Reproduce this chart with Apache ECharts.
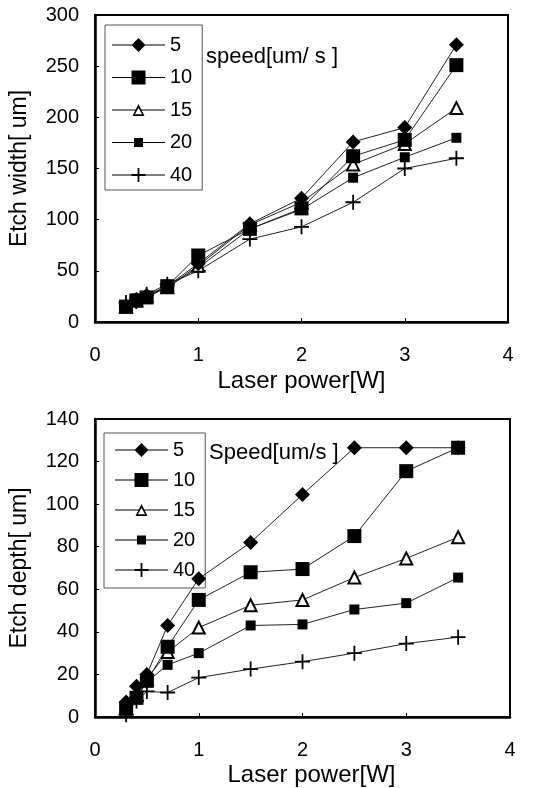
<!DOCTYPE html>
<html>
<head>
<meta charset="utf-8">
<script src="https://cdn.jsdelivr.net/npm/echarts@6/dist/echarts.min.js"></script>
<style>
html,body{margin:0;padding:0;background:#fff;}
#chart{width:547px;height:788px;}
</style>
</head>
<body>
<div id="chart"></div>
<script>
var powers = [0.3, 0.4, 0.5, 0.7, 1, 1.5, 2, 2.5, 3, 3.5];
var speeds = ['5', '10', '15', '20', '40'];
var xTicks = [0, 1, 2, 3, 4];
var widthTicks = [0, 50, 100, 150, 200, 250, 300];
var depthTicks = [0, 20, 40, 60, 80, 100, 120, 140];

var width5  = [16, 22, 26, 35, 57, 96, 121, 176, 190, 271];
var width10 = [15, 21, 24, 35, 65, 91, 111, 162, 178, 251];
var width15 = [15, 21, 26, 34, 55, 95, 117, 154, 174, 209];
var width20 = [15, 23, 24, 34, 53, 91, 110, 141, 161, 180];
var width40 = [19, 20, 27, 37, 50, 81, 93, 117, 150, 160];

var depth5  = [7, 14.5, 20, 43, 65, 82, 104.5, 126.5, 126.5, 126.5];
var depth10 = [4, 9, 17, 33, 55, 68, 69.5, 85, 115.5, 126.5];
var depth15 = [4.5, 10.5, 18, 30.5, 42, 52.5, 55, 65.5, 74.5, 84.5];
var depth20 = [3.8, 9, 16.5, 24.5, 30, 43, 43.5, 50.5, 53.5, 65.5];
var depth40 = [1, 7.5, 12, 11.5, 18.5, 22.5, 26, 30, 34.5, 37.5];

var plusPath = 'path://M8.8,0H11.2V8.8H20V11.2H11.2V20H8.8V11.2H0V8.8H8.8Z';
var styles = [
  {symbol: 'diamond', size: 15, fill: '#000'},
  {symbol: 'rect', size: 14, fill: '#000'},
  {symbol: 'triangle', size: 12, fill: '#fff'},
  {symbol: 'rect', size: 10, fill: '#000'},
  {symbol: plusPath, size: 15, fill: '#000'}
];
// legend icons: line + marker drawn as one path (53 x 15 box)
var legendIcons = [
  'path://M0,7H53V8H0Z M26.5,0.5L33.5,7.5L26.5,14.5L19.5,7.5Z',
  'path://M0,7H53V8H0Z M19.5,0.5H33.5V14.5H19.5Z',
  'path://M0,7H23.5V8H0Z M29.5,7H53V8H29.5Z M26.5,1.5L32.5,13.5L20.5,13.5Z M26.5,5.6L22.9,11.8L30.1,11.8Z',
  'path://M0,7H53V8H0Z M22,3H31V12H22Z',
  'path://M0,7H53V8H0Z M25.6,0.5H27.4V6.6H33.5V8.4H27.4V14.5H25.6V8.4H19.5V6.6H25.6Z'
];

var widthSets = [width5, width10, width15, width20, width40];
var depthSets = [depth5, depth10, depth15, depth20, depth40];

function pairs(vals) {
  return powers.map(function (p, i) { return [p, vals[i]]; });
}

var font = '"Liberation Sans", Arial, sans-serif';
var series = [];
[widthSets, depthSets].forEach(function (sets, gi) {
  sets.forEach(function (vals, si) {
    var st = styles[si];
    series.push({
      name: speeds[si],
      type: 'line',
      xAxisIndex: gi,
      yAxisIndex: gi,
      data: pairs(vals),
      symbol: st.symbol,
      symbolSize: st.size,
      showAllSymbol: true,
      z: 10 - si,
      lineStyle: {color: '#222', width: 1},
      itemStyle: {color: st.fill, borderColor: '#000', borderWidth: st.fill === '#fff' ? 2 : 0},
      emphasis: {disabled: true},
      animation: false
    });
  });
});

function xAxis(gi) {
  return {
    type: 'value', gridIndex: gi, min: 0, max: 4, interval: 1,
    name: 'Laser power[W]', nameLocation: 'middle', nameGap: gi === 0 ? 47 : 46,
    nameTextStyle: {fontSize: 24, fontFamily: font, color: '#000', padding: gi === 0 ? 0 : [0, 0, 0, 18]},
    axisLine: {show: true, lineStyle: {color: '#000', width: 2.5}},
    axisTick: {show: true, inside: true, length: 4, lineStyle: {color: '#000', width: 1}},
    axisLabel: {fontSize: 20, fontFamily: font, color: '#000', margin: 23},
    splitLine: {show: false}
  };
}
function yAxis(gi, name, max, interval) {
  return {
    type: 'value', gridIndex: gi, min: 0, max: max, interval: interval,
    name: name, nameLocation: 'middle', nameGap: 64, nameRotate: 90,
    nameTextStyle: {fontSize: 23, fontFamily: font, color: '#000'},
    axisLine: {show: true, lineStyle: {color: '#000', width: 2.5}},
    axisTick: {show: true, inside: true, length: 4, lineStyle: {color: '#000', width: 1}},
    axisLabel: {fontSize: 20, fontFamily: font, color: '#000', margin: 16},
    splitLine: {show: false}
  };
}

function legend(top, left, gap, pad) {
  return {
    orient: 'vertical', left: left, top: top,
    data: speeds.map(function (s, i) {
      return {name: s, icon: legendIcons[i], itemStyle: {color: '#000', borderWidth: 0}};
    }),
    backgroundColor: '#fff', borderColor: '#555', borderWidth: 1,
    padding: pad,
    itemWidth: 53, itemHeight: 15, itemGap: gap, symbolKeepAspect: true,
    textStyle: {fontSize: 20, fontFamily: font, color: '#000'},
    selectedMode: false
  };
}

var option = {
  backgroundColor: '#fff',
  animation: false,
  grid: [
    {left: 95, top: 15, width: 413, height: 307, show: true, borderColor: '#000', borderWidth: 2, backgroundColor: 'transparent'},
    {left: 95, top: 419, width: 415, height: 305, show: true, borderColor: '#000', borderWidth: 2, backgroundColor: 'transparent'}
  ],
  xAxis: [xAxis(0), xAxis(1)],
  yAxis: [yAxis(0, 'Etch width[ um]', 300, 50), yAxis(1, 'Etch depth[ um]', 140, 20)],
  legend: [legend(25, 105, 12.5, [10, 10, 5, 7]), legend(433, 104, 10, [7, 10, 8, 11])],
  title: [
    {text: 'speed[um/ s ]', left: 201, top: 41, textStyle: {fontSize: 22, fontWeight: 'normal', fontFamily: font, color: '#000'}},
    {text: 'Speed[um/s ]', left: 204, top: 437, textStyle: {fontSize: 22, fontWeight: 'normal', fontFamily: font, color: '#000'}}
  ],
  series: series
};

var chart = echarts.init(document.getElementById('chart'), null, {renderer: 'canvas'});
chart.setOption(option);
</script>
</body>
</html>
